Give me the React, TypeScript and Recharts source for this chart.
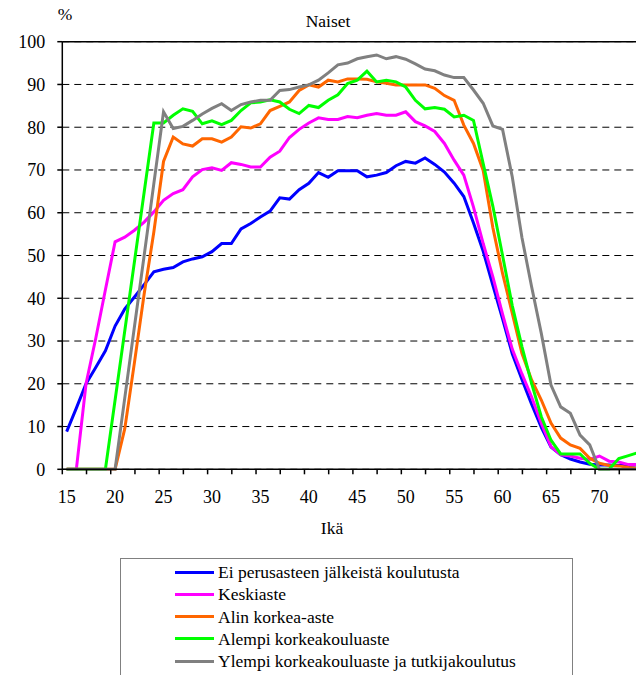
import React from "react";
import {
  LineChart,
  Line,
  XAxis,
  YAxis,
  CartesianGrid,
  ReferenceLine,
  Legend,
} from "recharts";

const FONT = "Liberation Serif, DejaVu Serif, Times New Roman, serif";

// ages 15..74
const ages = [
  15, 16, 17, 18, 19, 20, 21, 22, 23, 24, 25, 26, 27, 28, 29, 30, 31, 32, 33, 34,
  35, 36, 37, 38, 39, 40, 41, 42, 43, 44, 45, 46, 47, 48, 49, 50, 51, 52, 53, 54,
  55, 56, 57, 58, 59, 60, 61, 62, 63, 64, 65, 66, 67, 68, 69, 70, 71, 72, 73, 74,
];

const eiPerus = [
  8.8, 14.3, 20, 23.8, 27.7, 33.5, 37.5, 40.3, 43.2, 46.2, 46.8, 47.2, 48.5, 49.2, 49.7, 50.9, 52.8, 52.8, 56.2, 57.5,
  59, 60.4, 63.5, 63.2, 65.4, 66.9, 69.4, 68.3, 69.8, 69.8, 69.8, 68.4, 68.8, 69.4, 71, 72, 71.6, 72.8, 71.3, 69.5,
  66.9, 63.8, 57.6, 51, 43, 35.2, 27, 21, 15.2, 9.8, 5.2, 3.4, 2.4, 1.7, 1.2, 1, 1, 0.9, 0.9, 1,
];

const keskiaste = [
  0, 0, 20, 30.6, 42, 53.2, 54.3, 55.9, 57.8, 60.2, 62.9, 64.5, 65.4, 68.4, 70.1, 70.5, 69.9, 71.7, 71.3, 70.7,
  70.7, 73, 74.4, 77.6, 79.5, 81, 82.2, 81.8, 81.8, 82.5, 82.2, 82.8, 83.2, 82.8, 82.8, 83.6, 81.3, 80.3, 79, 76.2,
  72.3, 68.8, 61.3, 52.8, 45, 36.3, 28.1, 22.3, 16.9, 10.8, 5.3, 3.4, 3.1, 2.6, 2.3, 3.1, 1.9, 1.7, 1.1, 1.1,
];

const alinKorkea = [
  0, 0, 0, 0, 0, 0, 9.5, 25, 41, 55.5, 72, 77.7, 76.1, 75.6, 77.3, 77.3, 76.5, 77.7, 80.1, 79.8,
  80.8, 83.9, 84.9, 85.9, 88.6, 89.9, 89.4, 91, 90.6, 91.3, 91.3, 91.2, 90.6, 90.3, 89.9, 89.9, 89.9, 89.9, 89.1, 87.4,
  86.3, 80.5, 76.2, 69.9, 56.5, 45.8, 36.5, 27.1, 20.9, 16.2, 10.8, 7.3, 5.7, 4.9, 2.6, 1.4, 0.9, 0.8, 0.4, 0.2,
];

const alempiKorkea = [
  0, 0, 0, 0, 0, 16.2, 32.4, 48.6, 64.8, 81, 81, 82.8, 84.3, 83.7, 80.8, 81.5, 80.6, 81.6, 83.9, 85.7,
  85.9, 86.4, 85.9, 84.2, 83.2, 85.1, 84.6, 86.3, 87.6, 90.2, 91, 93.1, 90.6, 91, 90.6, 89.4, 86.3, 84.3, 84.6, 84.2,
  82.4, 82.8, 81.6, 71.5, 61.5, 50, 38.3, 28.7, 20.1, 12.3, 6.8, 3.6, 3.6, 3.6, 1.4, 0, 0, 2.5, 3.2, 3.9,
];

const ylempiKorkea = [
  0, 0, 0, 0, 0, 0, 16.7, 33.4, 50, 66.8, 83.6, 79.7, 80.2, 81.6, 83.1, 84.4, 85.5, 83.9, 85.3, 85.9,
  86.3, 86.3, 88.6, 88.8, 89.4, 89.9, 91, 92.7, 94.6, 95, 96, 96.5, 96.9, 96, 96.5, 95.9, 94.8, 93.6, 93.2, 92.2,
  91.6, 91.6, 88.7, 85.6, 80.3, 79.5, 68.4, 54.2, 42.7, 31.8, 19.7, 14.6, 13.1, 8, 5.7, 0, 0, 0, 0, 0,
];

const seriesNames = [
  "Ei perusasteen jälkeistä koulutusta",
  "Keskiaste",
  "Alin korkea-aste",
  "Alempi korkeakouluaste",
  "Ylempi korkeakouluaste ja tutkijakoulutus",
];
const seriesColors = ["#0000FF", "#FF00FF", "#FF6600", "#00FF00", "#808080"];

const xLabels = [15, 20, 25, 30, 35, 40, 45, 50, 55, 60, 65, 70];
const yTicks = [0, 10, 20, 30, 40, 50, 60, 70, 80, 90, 100];

// tick marks sit half a category to the left of the labels, every 2.5 years
const xMarks = Array.from({ length: 25 }, (_, i) => 14.55 + 2.5 * i);
const xTicks = [...xMarks, ...xLabels].sort((a, b) => a - b);

const data = ages.map((age, i) => ({
  age,
  ei: eiPerus[i],
  kesk: keskiaste[i],
  alin: alinKorkea[i],
  alempi: alempiKorkea[i],
  ylempi: ylempiKorkea[i],
}));

const keys = ["ei", "kesk", "alin", "alempi", "ylempi"];

function AgeTick(props: any) {
  const { x, y, payload } = props;
  const v = payload?.value;
  if (xLabels.includes(v)) {
    return (
      <text x={x} y={y + 34} textAnchor="middle" fill="#000" fontSize={18} fontFamily={FONT}>
        {v}
      </text>
    );
  }
  return <line x1={x} x2={x} y1={y} y2={y + 5} stroke="#000" strokeWidth={1.5} />;
}

// legend drawn in series order (Recharts would sort it by name)
function LegendBox() {
  return (
    <div
      style={{
        width: 453,
        height: 130,
        boxSizing: "border-box",
        border: "1.5px solid #808080",
        position: "relative",
        fontFamily: FONT,
        fontSize: 17.5,
        color: "#000",
      }}
    >
      {seriesNames.map((name, i) => (
        <div
          key={name}
          style={{ position: "absolute", left: 54, top: 2 + i * 22.3, height: 22, display: "flex", alignItems: "center" }}
        >
          <span style={{ display: "inline-block", width: 39, height: 3, background: seriesColors[i], marginRight: 4 }} />
          <span style={{ whiteSpace: "nowrap", lineHeight: "22px" }}>{name}</span>
        </div>
      ))}
    </div>
  );
}

const label = (text: string, left: number, top: number, width: number) => (
  <div
    style={{
      position: "absolute",
      left,
      top,
      width,
      textAlign: "center",
      fontFamily: FONT,
      fontSize: 17.5,
      lineHeight: "17.5px",
      color: "#000",
      whiteSpace: "nowrap",
    }}
  >
    {text}
  </div>
);

export default function App() {
  return (
    <div
      style={{
        position: "absolute",
        left: 0,
        top: 0,
        width: 636,
        height: 675,
        overflow: "hidden",
        background: "#fff",
      }}
    >
      <LineChart
        width={660}
        height={675}
        data={data}
        margin={{ top: 41.7, right: 16.5, bottom: 165.7, left: 2.3 }}
      >
        <CartesianGrid vertical={false} stroke="#000" strokeDasharray="7 5" />
        <ReferenceLine y={100} stroke="#000" strokeWidth={1.5} />
        <XAxis
          dataKey="age"
          type="number"
          domain={[14.55, 74.55]}
          ticks={xTicks}
          interval={0}
          height={40}
          tickSize={0}
          tickMargin={0}
          tickLine={false}
          axisLine={{ stroke: "#000", strokeWidth: 1.5 }}
          tick={<AgeTick />}
          allowDataOverflow
        />
        <YAxis
          type="number"
          domain={[0, 100]}
          ticks={yTicks}
          interval={0}
          width={60}
          tickSize={5}
          tickMargin={12}
          axisLine={{ stroke: "#000", strokeWidth: 1.5 }}
          tickLine={{ stroke: "#000", strokeWidth: 1.5 }}
          tick={{ fill: "#000", fontSize: 18, fontFamily: FONT }}
        />
        {keys.map((k, i) => (
          <Line
            key={k}
            dataKey={k}
            name={seriesNames[i]}
            stroke={seriesColors[i]}
            strokeWidth={3}
            dot={false}
            activeDot={false}
            type="linear"
            isAnimationActive={false}
          />
        ))}
        <Legend
          layout="vertical"
          align="center"
          verticalAlign="middle"
          content={<LegendBox />}
          wrapperStyle={{ position: "absolute", left: 120, top: 558, width: 453, height: 130 }}
        />
      </LineChart>
      {label("%", 50, 6, 30)}
      {label("Naiset", 278, 13, 100)}
      {label("Ikä", 282, 520, 100)}
    </div>
  );
}
